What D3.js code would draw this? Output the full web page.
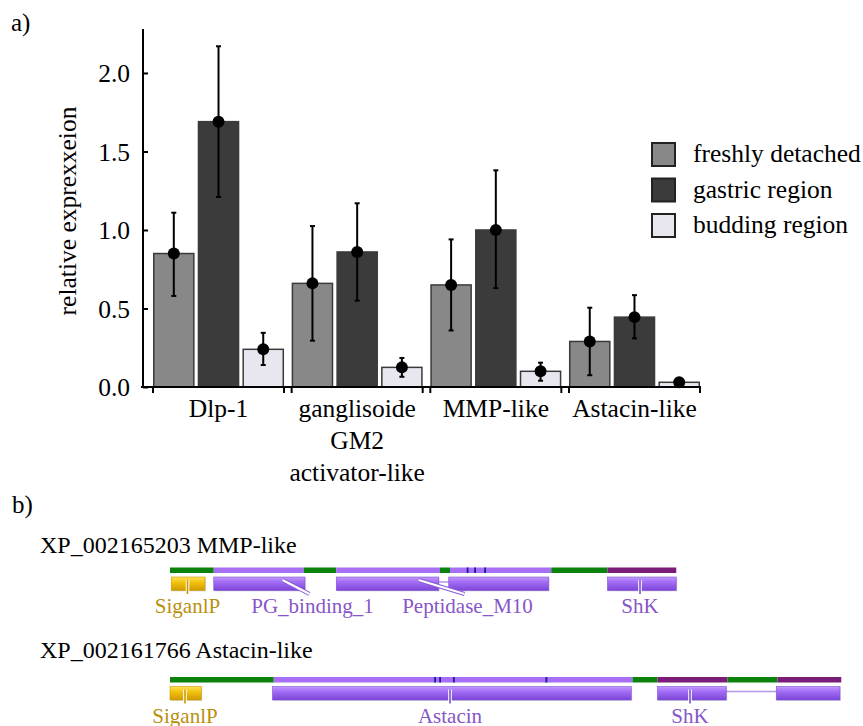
<!DOCTYPE html>
<html>
<head>
<meta charset="utf-8">
<script src="https://cdn.jsdelivr.net/npm/d3@7"></script>
<style>
  html, body { margin: 0; padding: 0; background: #fff; }
  svg text { font-family: "Liberation Serif", "Times New Roman", Times, serif !important; }
</style>
</head>
<body>
<svg id="fig" width="863" height="726"></svg>
<script>
// ---- panel a: relative expression ----
const groups = ["Dlp-1", "ganglisoide GM2 activator-like", "MMP-like", "Astacin-like"];
const groupLabelLines = [["Dlp-1"], ["ganglisoide", "GM2", "activator-like"], ["MMP-like"], ["Astacin-like"]];
const seriesNames = ["freshly detached", "gastric region", "budding region"];
const seriesColors = ["#888888", "#3b3b3b", "#e8e6ee"];

const freshly   = [0.85, 0.66, 0.65, 0.29];
const gastric   = [1.69, 0.86, 1.00, 0.445];
const budding   = [0.24, 0.125, 0.10, 0.03];

const freshlyLo = [0.58, 0.295, 0.36, 0.075];
const freshlyHi = [1.11, 1.025, 0.94, 0.505];
const gastricLo = [1.21, 0.55, 0.63, 0.31];
const gastricHi = [2.17, 1.17, 1.38, 0.585];
const buddingLo = [0.14, 0.065, 0.04, 0.015];
const buddingHi = [0.345, 0.185, 0.155, 0.035];

const yTicks = [0, 0.5, 1.0, 1.5, 2.0];

// ---- panel b: domain architecture ----
const proteinTitles = ["XP_002165203 MMP-like", "XP_002161766 Astacin-like"];
const proteinLengths = [405, 537];
// track segments: [start, end, kind]
const trackSegments = [
  [[0, 35, "green"], [35, 107, "light"], [107, 133, "green"], [133, 216, "light"],
   [216, 224, "green"], [224, 305, "light"], [305, 350, "green"], [350, 405, "dark"]],
  [[0, 83, "green"], [83, 370, "light"], [370, 390, "green"], [390, 446, "dark"],
   [446, 486, "green"], [486, 537, "dark"]]
];
const siteMarks = [[238, 244, 252], [212, 216, 227, 301]];
// domains: name, parts, connector anchor residue, label residue, connector style, colour family
const domains = [
  [
    { name: "SiganlP", parts: [[1, 28]], anchor: 14, label: 14, conn: "tick", fam: "gold" },
    { name: "PG_binding_1", parts: [[35, 108]], anchor: 90, label: 114, conn: "slash", fam: "purple" },
    { name: "Peptidase_M10", parts: [[133, 215], [223, 303]], anchor: 199, label: 238, conn: "slash", fam: "purple" },
    { name: "ShK", parts: [[350, 405]], anchor: 376, label: 376, conn: "tick", fam: "purple" }
  ],
  [
    { name: "SiganlP", parts: [[0, 25]], anchor: 12, label: 12, conn: "tick", fam: "gold" },
    { name: "Astacin", parts: [[82, 369]], anchor: 224, label: 224, conn: "tick", fam: "purple" },
    { name: "ShK", parts: [[390, 445], [485, 536]], anchor: 416, label: 416, conn: "tick", fam: "purple" }
  ]
];

const svg = d3.select("#fig");
const FONT = 25.5;
const SERIF = "'Liberation Serif', 'Times New Roman', Times, serif";

// ----- panel a -----
const y = d3.scaleLinear().domain([0, 2.28]).range([387, 29]);
const x0 = d3.scaleBand().domain(groups).range([153, 700]).paddingInner(0.055).paddingOuter(0);
const x1 = d3.scaleBand().domain(seriesNames).range([0, x0.bandwidth()]).paddingInner(0.07).paddingOuter(0);

const values = [freshly, gastric, budding];
const lows = [freshlyLo, gastricLo, buddingLo];
const highs = [freshlyHi, gastricHi, buddingHi];

svg.append("text").attr("x", 11).attr("y", 31).attr("font-size", 25).text("a)");

const plot = svg.append("g");

// bars
seriesNames.forEach((s, si) => {
  plot.selectAll(null).data(groups).enter().append("rect")
    .attr("x", g => x0(g) + x1(s) + 0.75)
    .attr("y", (g, gi) => y(values[si][gi]))
    .attr("width", x1.bandwidth() - 1.5)
    .attr("height", (g, gi) => y(0) - y(values[si][gi]))
    .attr("fill", seriesColors[si])
    .attr("stroke", "#3a3a3a")
    .attr("stroke-width", 1.5);
});

// error bars and mean dots
seriesNames.forEach((s, si) => {
  groups.forEach((g, gi) => {
    const cx = x0(g) + x1(s) + x1.bandwidth() / 2;
    const eg = plot.append("g");
    eg.append("line").attr("x1", cx).attr("x2", cx)
      .attr("y1", y(lows[si][gi])).attr("y2", y(highs[si][gi]))
      .attr("stroke", "#000").attr("stroke-width", 2);
    [lows[si][gi], highs[si][gi]].forEach(v => {
      eg.append("line").attr("x1", cx - 2.5).attr("x2", cx + 2.5)
        .attr("y1", y(v)).attr("y2", y(v))
        .attr("stroke", "#000").attr("stroke-width", 2);
    });
    eg.append("circle").attr("cx", cx).attr("cy", y(values[si][gi])).attr("r", 6).attr("fill", "#000");
  });
});

// y axis
const yAxis = d3.axisLeft(y).tickValues(yTicks).tickFormat(d3.format(".1f"))
  .tickSizeInner(-5).tickSizeOuter(0).tickPadding(13);
const ya = svg.append("g").attr("transform", "translate(143,0)").call(yAxis)
  .attr("font-family", SERIF).attr("font-size", FONT);
ya.select(".domain").attr("d", `M0,${y(0)}V${y(2.28)}`).attr("stroke", "#000").attr("stroke-width", 2);
ya.selectAll(".tick line").attr("stroke", "#000").attr("stroke-width", 2);
ya.selectAll(".tick text").attr("fill", "#000").attr("dy", "0.34em");

// x axis with ticks at group edges
const xa = svg.append("g");
xa.append("line").attr("x1", 141).attr("x2", 700).attr("y1", y(0)).attr("y2", y(0))
  .attr("stroke", "#000").attr("stroke-width", 2);
groups.forEach((g, gi) => {
  [x0(g), x0(g) + x0.bandwidth()].forEach(px => {
    xa.append("line").attr("x1", px).attr("x2", px).attr("y1", y(0) - 1).attr("y2", y(0) + 6)
      .attr("stroke", "#000").attr("stroke-width", 2);
  });
  const t = xa.append("text").attr("text-anchor", "middle").attr("font-size", FONT);
  groupLabelLines[gi].forEach((ln, i) => {
    t.append("tspan").attr("x", x0(g) + x0.bandwidth() / 2).attr("y", 417 + i * 32).text(ln);
  });
});

// y label
svg.append("text").attr("transform", "translate(76,211) rotate(-90)")
  .attr("text-anchor", "middle").attr("font-size", FONT).text("relative exprexxeion");

// legend
const lg = svg.append("g").attr("transform", "translate(652,143)");
seriesNames.forEach((s, i) => {
  lg.append("rect").attr("x", 0).attr("y", i * 35.5).attr("width", 23).attr("height", 23)
    .attr("fill", seriesColors[i]).attr("stroke", "#222").attr("stroke-width", 2);
  lg.append("text").attr("x", 41).attr("y", i * 35.5 + 19).attr("font-size", FONT).text(s);
});

// ----- panel b -----
svg.append("text").attr("x", 12).attr("y", 513).attr("font-size", 25).text("b)");

const defs = svg.append("defs");
function grad(id, stops) {
  const lgd = defs.append("linearGradient").attr("id", id).attr("x1", 0).attr("y1", 0).attr("x2", 0).attr("y2", 1);
  stops.forEach(([o, c]) => lgd.append("stop").attr("offset", o).attr("stop-color", c));
}
grad("gPurple", [[0, "#c49bff"], [0.35, "#a46ef7"], [1, "#7c45d8"]]);
grad("gGold", [[0, "#ffe15a"], [0.4, "#f2c20c"], [1, "#cf9a00"]]);

const trackColors = { green: "#0b820b", light: "#a66ff5", dark: "#7a1c78" };
const famColors = {
  purple: { fill: "url(#gPurple)", edge: "#7d4fd0", text: "#8656c8" },
  gold: { fill: "url(#gGold)", edge: "#c89800", text: "#b8900e" }
};
const xs = d3.scaleLinear().domain([0, 537]).range([170, 170 + 537 * 1.25]);

const rowTop = [567.5, 677];
const titleY = [553, 658];

proteinTitles.forEach((title, r) => {
  svg.append("text").attr("x", 40).attr("y", titleY[r]).attr("font-size", 24).text(title);
  const g = svg.append("g");
  const ty = rowTop[r];
  // sequence track
  g.selectAll(null).data(trackSegments[r]).enter().append("rect")
    .attr("x", d => xs(d[0])).attr("y", ty)
    .attr("width", d => xs(d[1]) - xs(d[0])).attr("height", 5.5)
    .attr("fill", d => trackColors[d[2]]);
  g.selectAll(null).data(siteMarks[r]).enter().append("rect")
    .attr("x", d => xs(d) - 0.8).attr("y", ty).attr("width", 1.8).attr("height", 5.5)
    .attr("fill", "#1c1c9c");

  const by = ty + 9.5, bh = 13.5;
  domains[r].forEach(dm => {
    const fc = famColors[dm.fam];
    // joining line between split parts
    for (let i = 1; i < dm.parts.length; i++) {
      g.append("line").attr("x1", xs(dm.parts[i - 1][1])).attr("x2", xs(dm.parts[i][0]))
        .attr("y1", by + 5).attr("y2", by + 5).attr("stroke", "#b49ae6").attr("stroke-width", 1.5);
    }
    dm.parts.forEach(p => {
      g.append("rect").attr("x", xs(p[0]) + 1).attr("y", by + 1).attr("width", xs(p[1]) - xs(p[0])).attr("height", bh)
        .attr("fill", "#000").attr("opacity", 0.12);
      g.append("rect").attr("x", xs(p[0])).attr("y", by).attr("width", xs(p[1]) - xs(p[0])).attr("height", bh)
        .attr("fill", fc.fill).attr("stroke", fc.edge).attr("stroke-width", 0.6);
    });
    const ax = xs(dm.anchor), lx = xs(dm.label);
    if (dm.conn === "tick") {
      g.append("line").attr("x1", ax).attr("x2", ax).attr("y1", by + 3).attr("y2", by + 17)
        .attr("stroke", "#fff").attr("stroke-width", 3.6);
      g.append("line").attr("x1", ax).attr("x2", ax).attr("y1", by + 3).attr("y2", by + 17)
        .attr("stroke", fc.edge).attr("stroke-width", 1.6);
    } else {
      g.append("line").attr("x1", ax).attr("x2", lx - 3).attr("y1", by + 3).attr("y2", by + 17)
        .attr("stroke", "#8a5ad8").attr("stroke-width", 4.2);
      g.append("line").attr("x1", ax).attr("x2", lx - 3).attr("y1", by + 3).attr("y2", by + 17)
        .attr("stroke", "#fff").attr("stroke-width", 2);
    }
    g.append("text").attr("x", lx).attr("y", by + 36).attr("text-anchor", "middle")
      .attr("font-size", 21).attr("fill", fc.text).text(dm.name);
  });
});
</script>
</body>
</html>
